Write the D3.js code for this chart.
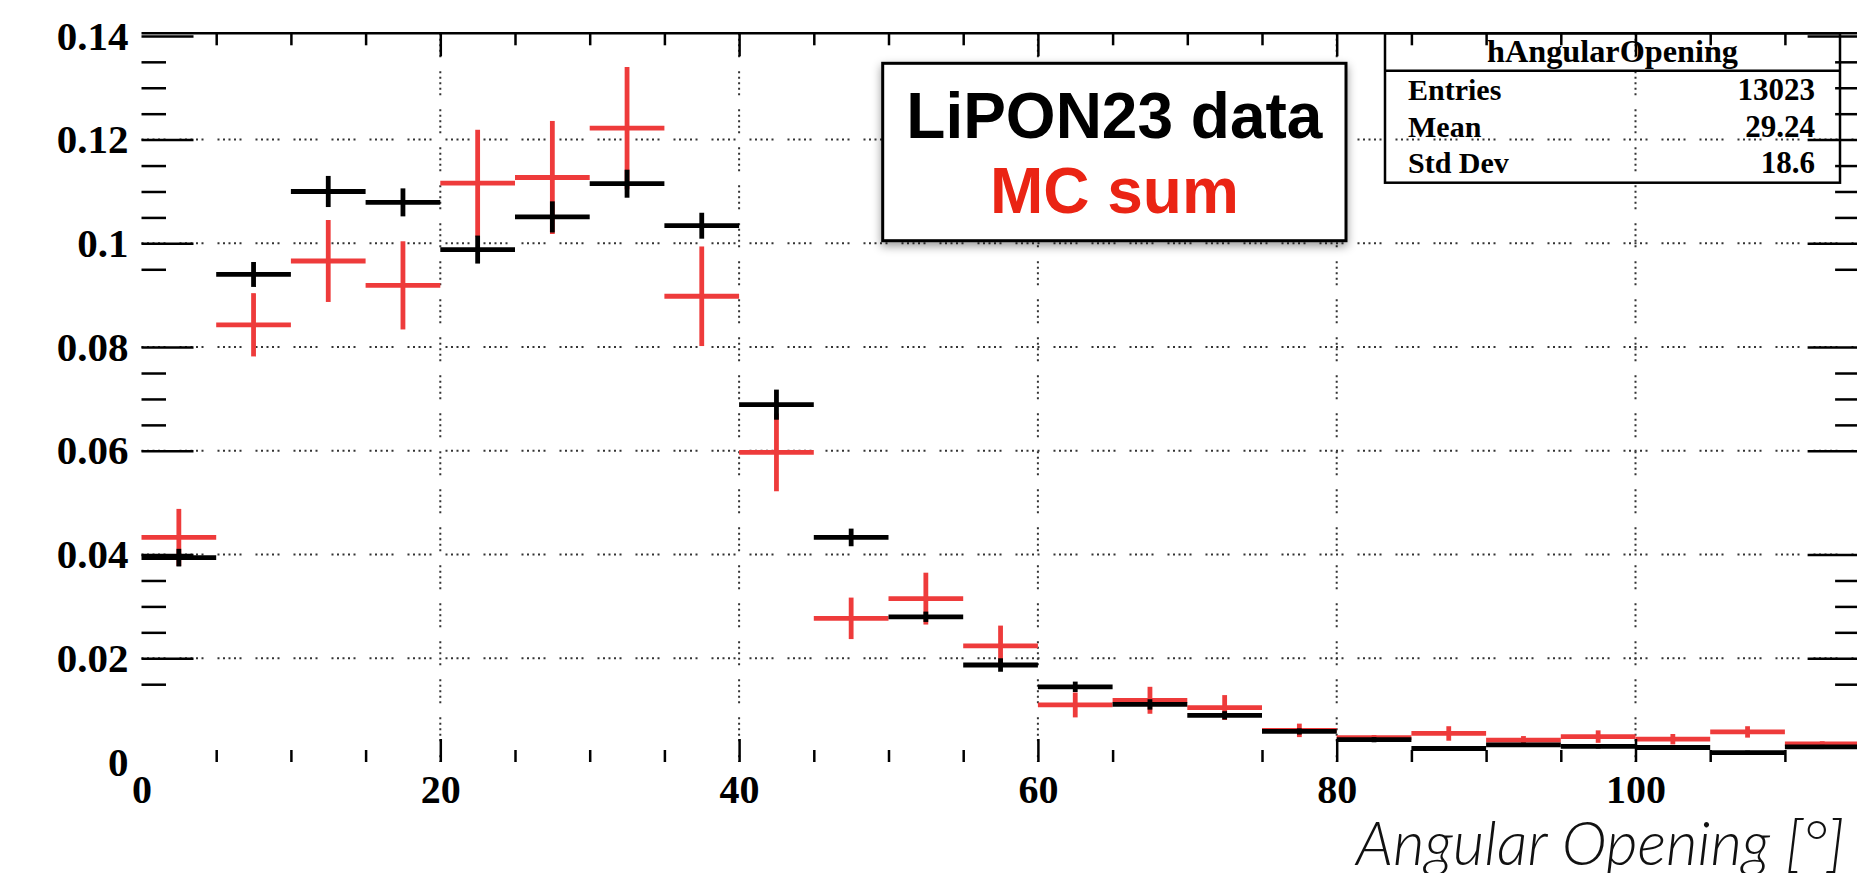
<!DOCTYPE html>
<html>
<head>
<meta charset="utf-8">
<script src="https://cdn.jsdelivr.net/npm/d3@7"></script>
<style>
  body { margin: 0; background: #fff; overflow: hidden; }
  .ylab text, .xlab text { font-family: "Liberation Serif", "DejaVu Serif", serif; font-weight: bold; fill: #000; }
</style>
</head>
<body>
<div id="chart"></div>
<script>
// bins are 5 degrees wide, value = left edge
const binLow = [0, 5, 10, 15, 20, 25, 30, 35, 40, 45, 50, 55, 60, 65, 70, 75, 80, 85, 90, 95, 100, 105, 110];
const binWidth = 5;

// LiPON23 data (black)
const dataVals = [0.0394, 0.0940, 0.1100, 0.1079, 0.0988, 0.1051, 0.1115, 0.1034, 0.0689, 0.0433, 0.0280, 0.0187,
  0.0145, 0.0111, 0.0090, 0.0059, 0.0043, 0.0026, 0.0033, 0.0030, 0.0028, 0.0018, 0.0029];
const dataErr = [0.0017, 0.0024, 0.0030, 0.0027, 0.0027, 0.0030, 0.0027, 0.0025, 0.0029, 0.0017, 0.0010, 0.0013,
  0.0010, 0.0010, 0.0008, 0.0006, 0.0005, 0.0004, 0.0004, 0.0004, 0.0004, 0.0004, 0.0004];

// MC sum (red)
const mcVals = [0.0433, 0.0843, 0.0966, 0.0919, 0.1116, 0.1127, 0.1222, 0.0898, 0.0597, 0.0277, 0.0315, 0.0224,
  0.0110, 0.0119, 0.0105, 0.0061, 0.0047, 0.0055, 0.0042, 0.0049, 0.0044, 0.0058, 0.0035];
const mcErr = [0.0055, 0.0061, 0.0079, 0.0085, 0.0103, 0.0109, 0.0118, 0.0096, 0.0075, 0.0040, 0.0050, 0.0039,
  0.0024, 0.0026, 0.0024, 0.0013, 0.0005, 0.0014, 0.0008, 0.0012, 0.0010, 0.0011, 0.0005];

const yMajor = [0, 0.02, 0.04, 0.06, 0.08, 0.1, 0.12, 0.14];
const yLabels = ["0", "0.02", "0.04", "0.06", "0.08", "0.1", "0.12", "0.14"];
// only the minor ticks that show up in the picture
const yMinor = [0.015, 0.025, 0.03, 0.035, 0.065, 0.07, 0.075, 0.095, 0.105, 0.11, 0.115, 0.125, 0.13, 0.135];
const xMajor = [0, 20, 40, 60, 80, 100];
const xLabels = ["0", "20", "40", "60", "80", "100"];
const xMinorTop = [5, 10, 15, 25, 30, 35, 45, 50, 55, 65, 70, 75, 85, 90, 95, 105, 110];
const xMinorBottom = [5, 10, 15, 25, 30, 35, 45, 50, 55, 65, 75, 85, 90, 95, 105, 110];
const gridX = [20, 40, 60, 80, 100];
const gridY = [0.02, 0.04, 0.06, 0.08, 0.1, 0.12];

const statTitle = "hAngularOpening";
const statNames = ["Entries", "Mean", "Std Dev"];
const statValues = ["13023", "29.24", "18.6"];

const W = 1857, H = 873;
const frame = { left: 141.5, right: 1859.6, top: 33.3, bottom: 762 };

const svg = d3.select("#chart").append("svg")
  .attr("width", W)
  .attr("height", H);

const defs = svg.append("defs");
defs.append("filter").attr("id", "shadow")
  .attr("x", "-10%").attr("y", "-10%").attr("width", "120%").attr("height", "130%")
  .append("feDropShadow")
  .attr("dx", 0).attr("dy", 4).attr("stdDeviation", 5)
  .attr("flood-color", "#000").attr("flood-opacity", 0.4);

const x = d3.scaleLinear().domain([0, 115]).range([frame.left, frame.right]);
const y = d3.scaleLinear().domain([0, 0.1405]).range([frame.bottom, frame.top]);

// dotted ROOT-style grid
const dots = "2,3.5,2,3.5,2,3.5,2,3.5,2,14";
svg.append("g").selectAll("line.gy").data(gridY).join("line")
  .attr("x1", frame.left).attr("x2", frame.right)
  .attr("y1", d => y(d)).attr("y2", d => y(d))
  .attr("stroke", "#333").attr("stroke-width", 2)
  .attr("stroke-dasharray", dots);
svg.append("g").selectAll("line.gx").data(gridX).join("line")
  .attr("x1", d => x(d)).attr("x2", d => x(d))
  .attr("y1", frame.top).attr("y2", frame.bottom)
  .attr("stroke", "#333").attr("stroke-width", 2)
  .attr("stroke-dasharray", dots);

function drawHist(vals, errs, color) {
  const g = svg.append("g");
  g.selectAll("line.h").data(vals).join("line")
    .attr("x1", (d, i) => x(binLow[i]))
    .attr("x2", (d, i) => x(binLow[i] + binWidth))
    .attr("y1", d => y(d)).attr("y2", d => y(d))
    .attr("stroke", color).attr("stroke-width", 4.8);
  g.selectAll("line.v").data(vals).join("line")
    .attr("x1", (d, i) => x(binLow[i] + binWidth / 2))
    .attr("x2", (d, i) => x(binLow[i] + binWidth / 2))
    .attr("y1", (d, i) => y(d - errs[i]))
    .attr("y2", (d, i) => y(d + errs[i]))
    .attr("stroke", color).attr("stroke-width", 4.8);
}
drawHist(mcVals, mcErr, "#ee3b3b");
drawHist(dataVals, dataErr, "#000");

// axes, ticks pointing inward like ROOT
function styleAxis(g) {
  g.selectAll(".tick line").attr("stroke", "#000").attr("stroke-width", 2.5);
  // no tick on the corner at zero
  g.selectAll(".tick").filter(d => d === 0).select("line").remove();
  g.select(".domain").remove();
}

svg.append("g").attr("class", "ylab")
  .attr("transform", `translate(${frame.left},0)`)
  .call(d3.axisLeft(y).tickValues(yMajor).tickSize(-52).tickPadding(13)
    .tickFormat((d, i) => yLabels[i]))
  .call(styleAxis)
  .call(g => g.selectAll("text").style("font-size", "41px"));
svg.append("g")
  .attr("transform", `translate(${frame.left},0)`)
  .call(d3.axisLeft(y).tickValues(yMinor).tickSize(-24.5).tickFormat(""))
  .call(styleAxis);
svg.append("g")
  .attr("transform", `translate(${frame.right},0)`)
  .call(d3.axisRight(y).tickValues(yMajor).tickSize(-52).tickFormat(""))
  .call(styleAxis);
svg.append("g")
  .attr("transform", `translate(${frame.right},0)`)
  .call(d3.axisRight(y).tickValues(yMinor).tickSize(-24.5).tickFormat(""))
  .call(styleAxis);

svg.append("g").attr("class", "xlab")
  .attr("transform", `translate(0,${frame.bottom})`)
  .call(d3.axisBottom(x).tickValues(xMajor).tickSize(-23).tickPadding(12.6)
    .tickFormat((d, i) => xLabels[i]))
  .call(styleAxis)
  .call(g => g.selectAll("text").style("font-size", "40px"));
svg.append("g")
  .attr("transform", `translate(0,${frame.bottom})`)
  .call(d3.axisBottom(x).tickValues(xMinorBottom).tickSize(-12).tickFormat(""))
  .call(styleAxis);
svg.append("g")
  .attr("transform", `translate(0,${frame.top})`)
  .call(d3.axisTop(x).tickValues(xMajor.slice(1)).tickSize(-23).tickFormat(""))
  .call(styleAxis);
svg.append("g")
  .attr("transform", `translate(0,${frame.top})`)
  .call(d3.axisTop(x).tickValues(xMinorTop).tickSize(-12).tickFormat(""))
  .call(styleAxis);

// top frame line
svg.append("line")
  .attr("x1", frame.left).attr("x2", W)
  .attr("y1", frame.top).attr("y2", frame.top)
  .attr("stroke", "#000").attr("stroke-width", 2.5);

// stats box (no fill, grid shows through)
const sb = { x0: 1385, x1: 1840, y0: frame.top, ySep: 70.7, y1: 182.7 };
const stats = svg.append("g")
  .style("font-family", "'Liberation Serif', 'DejaVu Serif', serif")
  .style("font-weight", "bold");
stats.append("rect")
  .attr("x", sb.x0).attr("y", sb.y0)
  .attr("width", sb.x1 - sb.x0).attr("height", sb.y1 - sb.y0)
  .attr("fill", "none").attr("stroke", "#000").attr("stroke-width", 2.5);
stats.append("line")
  .attr("x1", sb.x0).attr("x2", sb.x1)
  .attr("y1", sb.ySep).attr("y2", sb.ySep)
  .attr("stroke", "#000").attr("stroke-width", 2.5);
stats.append("text")
  .attr("x", (sb.x0 + sb.x1) / 2).attr("y", 61.5)
  .attr("text-anchor", "middle")
  .attr("textLength", 251).attr("lengthAdjust", "spacingAndGlyphs")
  .style("font-size", "31px")
  .text(statTitle);
const rowY = [100, 137, 173];
stats.selectAll("text.name").data(statNames).join("text")
  .attr("x", 1408).attr("y", (d, i) => rowY[i])
  .style("font-size", "30px")
  .text(d => d);
stats.selectAll("text.val").data(statValues).join("text")
  .attr("x", 1815).attr("y", (d, i) => rowY[i])
  .attr("text-anchor", "end")
  .style("font-size", "31px")
  .text(d => d);

// legend box
const lg = { x0: 882.7, x1: 1346, y0: 63.3, y1: 240.7 };
svg.append("rect")
  .attr("x", lg.x0).attr("y", lg.y0)
  .attr("width", lg.x1 - lg.x0).attr("height", lg.y1 - lg.y0)
  .attr("fill", "#fff").attr("stroke", "#000").attr("stroke-width", 3)
  .attr("filter", "url(#shadow)");
svg.append("text")
  .attr("x", (lg.x0 + lg.x1) / 2).attr("y", 137.5)
  .attr("text-anchor", "middle")
  .style("font-family", "'Liberation Sans', Arial, sans-serif")
  .style("font-weight", "bold").style("font-size", "64px")
  .text("LiPON23 data");
svg.append("text")
  .attr("x", (lg.x0 + lg.x1) / 2).attr("y", 213)
  .attr("text-anchor", "middle")
  .style("font-family", "'Liberation Sans', Arial, sans-serif")
  .style("font-weight", "bold").style("font-size", "64px")
  .attr("fill", "#ea2414")
  .text("MC sum");

// axis title, runs off the right edge in the original
svg.append("text")
  .attr("x", 1356).attr("y", 865)
  .style("font-family", "Lato, 'Open Sans', sans-serif")
  .style("font-style", "italic").style("font-weight", 300)
  .style("font-size", "61px").attr("fill", "#111")
  .text("Angular Opening [°]");
</script>
</body>
</html>
